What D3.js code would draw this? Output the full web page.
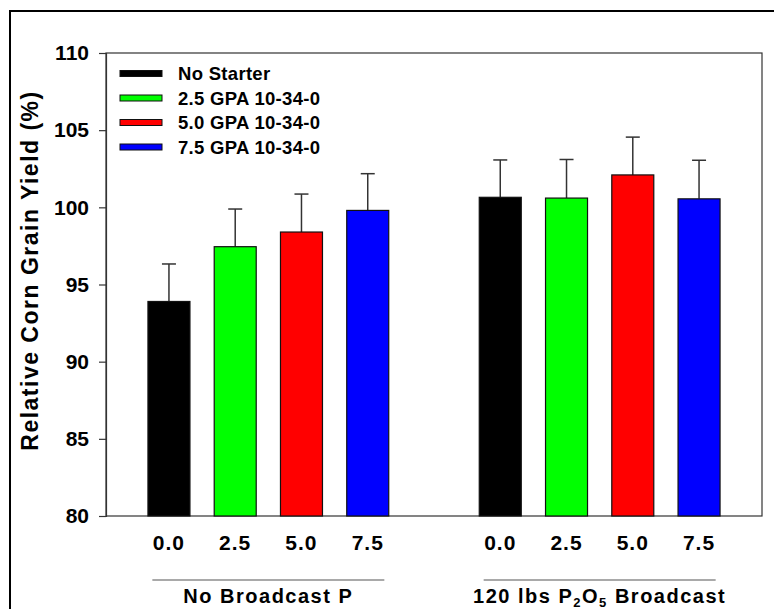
<!DOCTYPE html>
<html>
<head>
<meta charset="utf-8">
<script src="https://cdn.jsdelivr.net/npm/d3@7"></script>
<style>
  body { margin: 0; background: #fff; }
  text { font-family: "Liberation Sans", Arial, sans-serif; font-weight: bold; fill: #000; }
</style>
</head>
<body>
<div id="chart"></div>
<script>
// data
const rates = ["0.0", "2.5", "5.0", "7.5"];
const seriesNames = ["No Starter", "2.5 GPA 10-34-0", "5.0 GPA 10-34-0", "7.5 GPA 10-34-0"];
const seriesColors = ["#000000", "#00ff00", "#ff0000", "#0000ff"];
const noBroadcastYield = [93.9, 97.45, 98.4, 99.8];
const noBroadcastErr = [2.43, 2.44, 2.46, 2.38];
const broadcastYield = [100.65, 100.6, 102.1, 100.55];
const broadcastErr = [2.42, 2.5, 2.45, 2.5];
const yTicks = [80, 85, 90, 95, 100, 105, 110];

const svgWidth = 774;
const svgHeight = 609;

const margin = { top: 53, right: 12, bottom: 93, left: 106 };
const width = svgWidth - margin.left - margin.right;
const height = svgHeight - margin.top - margin.bottom;

const svg = d3.select("#chart")
  .append("svg")
  .attr("width", svgWidth)
  .attr("height", svgHeight);

// outer frame (runs off the right and bottom edge)
svg.append("rect")
  .attr("x", 10)
  .attr("y", 11)
  .attr("width", 800)
  .attr("height", 700)
  .attr("fill", "none")
  .attr("stroke", "#000")
  .attr("stroke-width", 2);

const chartGroup = svg.append("g")
  .attr("transform", `translate(${margin.left}, ${margin.top})`);

const xScale = d3.scaleLinear().domain([-0.95, 8.95]).range([0, width]);
const yScale = d3.scaleLinear().domain([80, 110]).range([height, 0]);

const barWidth = 42;

const rows = [];
[noBroadcastYield, broadcastYield].forEach((vals, g) => {
  const errs = g === 0 ? noBroadcastErr : broadcastErr;
  vals.forEach((v, s) => {
    rows.push({ slot: g * 5 + s, series: s, value: v, err: errs[s], rate: rates[s] });
  });
});

// plot box
chartGroup.append("rect")
  .attr("width", width)
  .attr("height", height)
  .attr("fill", "none")
  .attr("stroke", "#333")
  .attr("stroke-width", 1.2);

// error bars (upper only)
const errGroup = chartGroup.selectAll("g.err")
  .data(rows)
  .enter()
  .append("g")
  .attr("stroke", "#333")
  .attr("stroke-width", 1.5);

errGroup.append("line")
  .attr("x1", d => xScale(d.slot))
  .attr("x2", d => xScale(d.slot))
  .attr("y1", d => yScale(d.value))
  .attr("y2", d => yScale(d.value + d.err));

errGroup.append("line")
  .attr("x1", d => xScale(d.slot) - 7)
  .attr("x2", d => xScale(d.slot) + 7)
  .attr("y1", d => yScale(d.value + d.err))
  .attr("y2", d => yScale(d.value + d.err));

chartGroup.selectAll("rect.bar")
  .data(rows)
  .enter()
  .append("rect")
  .attr("class", "bar")
  .attr("x", d => xScale(d.slot) - barWidth / 2)
  .attr("y", d => yScale(d.value))
  .attr("width", barWidth)
  .attr("height", d => height - yScale(d.value))
  .attr("fill", d => seriesColors[d.series])
  .attr("stroke", "#111")
  .attr("stroke-width", 1.2);

// y axis
const leftAxis = d3.axisLeft(yScale)
  .tickValues(yTicks)
  .tickSize(7)
  .tickPadding(10)
  .tickFormat(d3.format("d"));

const yAxis = chartGroup.append("g").call(leftAxis);
yAxis.select(".domain").attr("stroke", "#333").attr("stroke-width", 1.2);
yAxis.selectAll(".tick line").attr("stroke", "#333").attr("stroke-width", 1.2);
yAxis.selectAll("text")
  .style("font-size", "21px")
  .style("font-family", "Liberation Sans, Arial, sans-serif")
  .style("font-weight", "bold")
  .attr("fill", "#000");

// x tick labels
chartGroup.selectAll("text.rate")
  .data(rows)
  .enter()
  .append("text")
  .attr("x", d => xScale(d.slot))
  .attr("y", height + 34)
  .attr("text-anchor", "middle")
  .style("font-size", "21px")
  .style("letter-spacing", "1px")
  .text(d => d.rate);

// group underlines and labels
const groupCentres = [xScale(1.5), xScale(6.5)];
const halfLine = 116;

chartGroup.selectAll("line.sep")
  .data(groupCentres)
  .enter()
  .append("line")
  .attr("x1", d => d - halfLine)
  .attr("x2", d => d + halfLine)
  .attr("y1", height + 64)
  .attr("y2", height + 64)
  .attr("stroke", "#555")
  .attr("stroke-width", 1.2);

chartGroup.append("text")
  .attr("x", groupCentres[0])
  .attr("y", height + 87)
  .attr("text-anchor", "middle")
  .style("font-size", "20px")
  .style("letter-spacing", "1.5px")
  .text("No Broadcast P");

const bcLabel = chartGroup.append("text")
  .attr("x", groupCentres[1])
  .attr("y", height + 87)
  .attr("text-anchor", "middle")
  .style("font-size", "20px")
  .style("letter-spacing", "1.5px");
bcLabel.append("tspan").text("120 lbs P");
bcLabel.append("tspan").attr("dy", 4).style("font-size", "13px").text("2");
bcLabel.append("tspan").attr("dy", -4).text("O");
bcLabel.append("tspan").attr("dy", 4).style("font-size", "13px").text("5");
bcLabel.append("tspan").attr("dy", -4).text(" Broadcast");

// y axis title
chartGroup.append("text")
  .attr("transform", "rotate(-90)")
  .attr("x", -(height / 2) + 14)
  .attr("y", -68)
  .attr("text-anchor", "middle")
  .style("font-size", "23px")
  .style("letter-spacing", "1.5px")
  .text("Relative Corn Grain Yield (%)");

// legend
const legend = chartGroup.selectAll("g.legend")
  .data(seriesNames)
  .enter()
  .append("g")
  .attr("transform", (d, i) => `translate(14, ${20.5 + i * 24.5})`);

legend.append("rect")
  .attr("x", 0)
  .attr("y", -3)
  .attr("width", 42)
  .attr("height", 6)
  .attr("fill", (d, i) => seriesColors[i])
  .attr("stroke", "#111")
  .attr("stroke-width", 1);

legend.append("text")
  .attr("x", 58)
  .attr("y", 6.5)
  .style("font-size", "18.5px")
  .style("letter-spacing", "0.3px")
  .text(d => d);
</script>
</body>
</html>
